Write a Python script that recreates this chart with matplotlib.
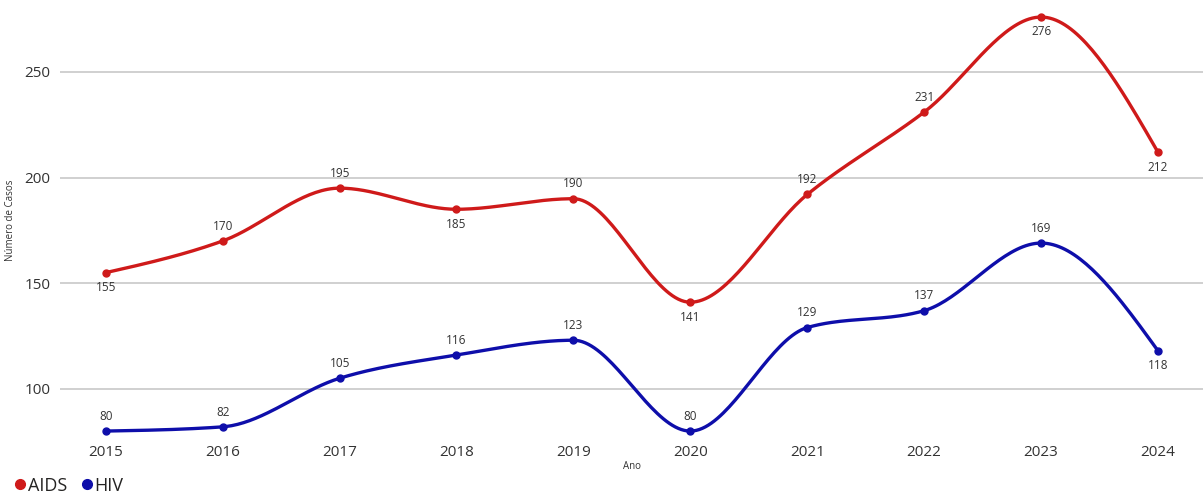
import matplotlib
matplotlib.use("Agg")
import matplotlib.pyplot as plt
from matplotlib.lines import Line2D
import numpy as np

plt.rcParams['font.family'] = ['Open Sans', 'DejaVu Sans']

years = [2015, 2016, 2017, 2018, 2019, 2020, 2021, 2022, 2023, 2024]
aids = [155, 170, 195, 185, 190, 141, 192, 231, 276, 212]
hiv = [80, 82, 105, 116, 123, 80, 129, 137, 169, 118]

# label above (+1) or below (-1) the point
aids_pos = [-1, 1, 1, -1, 1, -1, 1, 1, -1, -1]
hiv_pos = [1, 1, 1, 1, 1, 1, 1, 1, 1, -1]

red = '#CF1A1A'
blue = '#0E0EAA'


def smooth(x, y, n=40):
    # monotone cubic (like d3 curveMonotoneX)
    x = np.asarray(x, float)
    y = np.asarray(y, float)
    h = np.diff(x)
    s = np.diff(y) / h
    m = np.zeros(len(x))
    for i in range(1, len(x) - 1):
        p = (s[i - 1] * h[i] + s[i] * h[i - 1]) / (h[i - 1] + h[i])
        m[i] = (np.sign(s[i - 1]) + np.sign(s[i])) * min(abs(s[i - 1]), abs(s[i]), 0.5 * abs(p))
    m[0] = (3 * s[0] - m[1]) / 2
    m[-1] = (3 * s[-1] - m[-2]) / 2
    t = np.linspace(0, 1, n)
    xs, ys = [], []
    for i in range(len(x) - 1):
        h00 = 2 * t ** 3 - 3 * t ** 2 + 1
        h10 = t ** 3 - 2 * t ** 2 + t
        h01 = -2 * t ** 3 + 3 * t ** 2
        h11 = t ** 3 - t ** 2
        xs.append(x[i] + t * h[i])
        ys.append(h00 * y[i] + h10 * h[i] * m[i] + h01 * y[i + 1] + h11 * h[i] * m[i + 1])
    return np.concatenate(xs), np.concatenate(ys)


fig = plt.figure(figsize=(12.03, 5.01), dpi=100)
ax = fig.add_axes([0.05, 0.132, 0.95, 0.858])

for vals, pos, col in ((aids, aids_pos, red), (hiv, hiv_pos, blue)):
    sx, sy = smooth(years, vals)
    ax.plot(sx, sy, color=col, lw=2.4, solid_capstyle='round', zorder=3)
    ax.plot(years, vals, 'o', color=col, ms=5, zorder=4)
    for x, v, p in zip(years, vals, pos):
        ax.annotate(str(v), (x, v), xytext=(0, 6 * p), textcoords='offset points',
                    ha='center', va='bottom' if p > 0 else 'top',
                    fontsize=8.5, color='#333333')

ax.set_xlim(2014.61, 2024.385)
ax.set_ylim(78.2, 281.7)
ax.set_xticks(years)
ax.set_yticks([100, 150, 200, 250])
ax.grid(axis='y', color='#C8C8C8', lw=1.2)
ax.set_axisbelow(True)
for s in ax.spines.values():
    s.set_visible(False)
ax.tick_params(length=0, labelsize=11, labelcolor='#333333', pad=7)
ax.set_xlabel('Ano', fontsize=7, color='#333333', labelpad=1)
ax.set_ylabel('Número de Casos', fontsize=7, color='#333333', labelpad=6)

handles = [Line2D([], [], ls='', marker='o', color=red, ms=7),
           Line2D([], [], ls='', marker='o', color=blue, ms=7)]
fig.legend(handles, ['AIDS', 'HIV'], loc='lower left', bbox_to_anchor=(-0.004, -0.02),
           ncol=2, frameon=False, fontsize=13, handletextpad=-0.1,
           columnspacing=0.6, handlelength=1.0, labelcolor='#252423')

fig.savefig('out.png', dpi=100)
